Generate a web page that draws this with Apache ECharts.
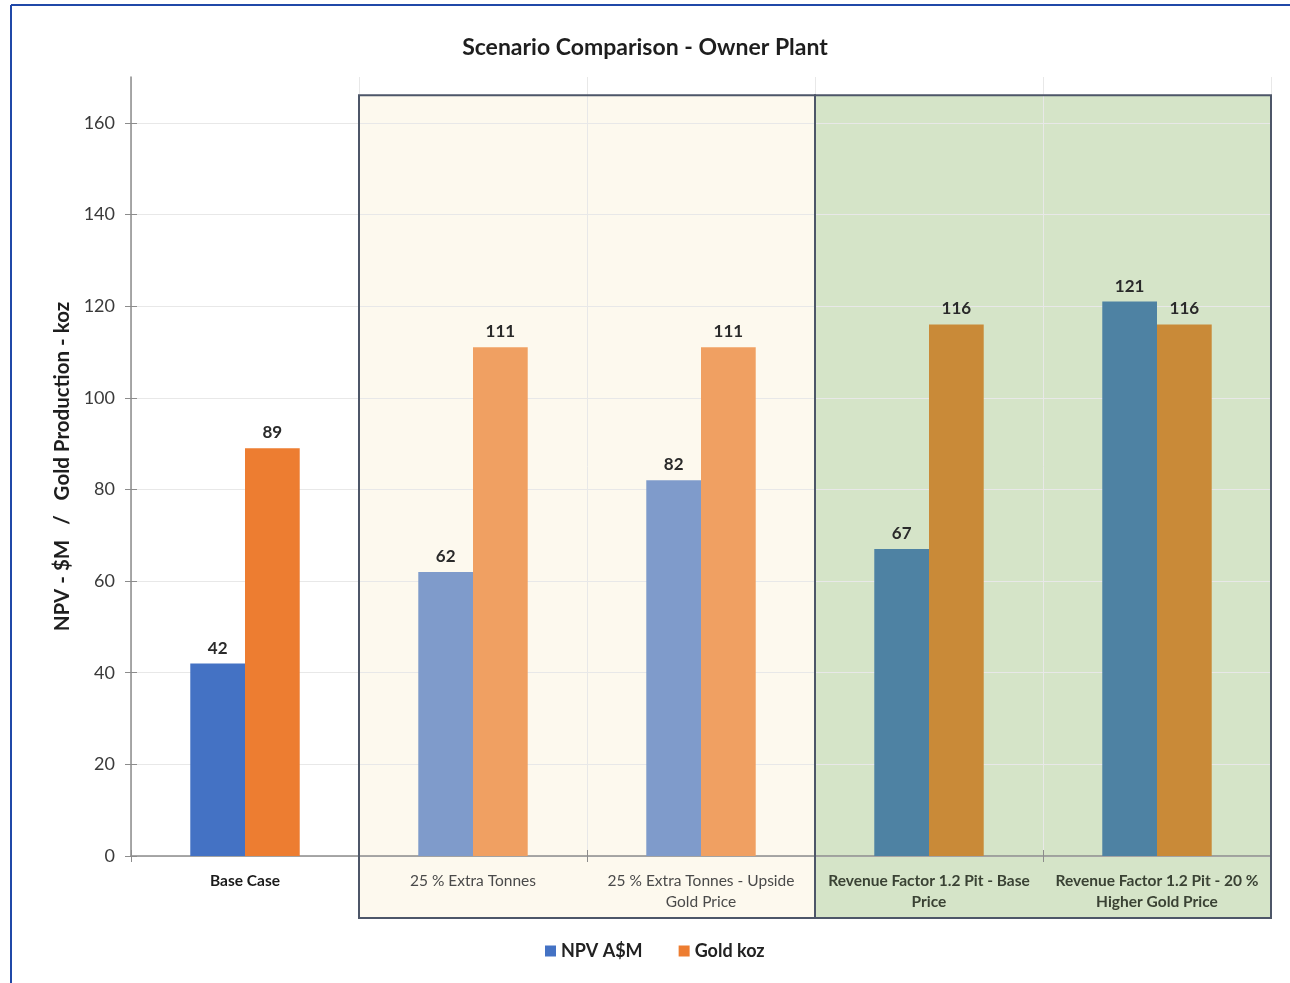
<!DOCTYPE html>
<html>
<head>
<meta charset="utf-8">
<script src="https://cdn.jsdelivr.net/npm/echarts@6/dist/echarts.min.js"></script>
<style>
  html, body { margin: 0; padding: 0; background: #ffffff; }
  #chart { width: 1290px; height: 983px; }
</style>
</head>
<body>
<div id="chart"></div>
<script>
// Scenario names (x axis) and values for each series
const categories = [
  'Base Case',
  '25 % Extra Tonnes',
  '25 % Extra Tonnes - Upside\nGold Price',
  'Revenue Factor 1.2 Pit - Base\nPrice',
  'Revenue Factor 1.2 Pit - 20 %\nHigher Gold Price'
];
const npvValues = [42, 62, 82, 67, 121];
const goldValues = [89, 111, 111, 116, 116];
const yTicks = [0, 20, 40, 60, 80, 100, 120, 140, 160];

// Colours: one per scenario group
const npvColors = ['#4472C4', '#7F9BCB', '#7F9BCB', '#4E82A3', '#4E82A3'];
const goldColors = ['#ED7D31', '#F0A062', '#F0A062', '#C98A38', '#C98A38'];
const labelStyles = ['base', 'extra', 'extra', 'rf', 'rf'];

const FONT = 'Lato, "Open Sans", sans-serif';

const chart = echarts.init(document.getElementById('chart'), null, { renderer: 'canvas' });

function barData(values, colors) {
  return values.map((v, i) => ({ value: v, itemStyle: { color: colors[i] } }));
}

const barLabel = {
  show: true,
  position: 'top',
  distance: 7,
  fontFamily: FONT,
  fontSize: 17,
  fontWeight: 'bold',
  color: '#2a2a2a'
};

const option = {
  animation: false,
  backgroundColor: '#ffffff',
  textStyle: { fontFamily: FONT },
  title: {
    text: 'Scenario Comparison - Owner Plant',
    left: 'center',
    top: 31,
    textStyle: { fontFamily: FONT, fontSize: 23, fontWeight: 'bold', color: '#1e1e1e' }
  },
  legend: {
    data: [
      { name: 'NPV A$M', itemStyle: { color: '#4472C4' } },
      { name: 'Gold koz', itemStyle: { color: '#ED7D31' } }
    ],
    top: 937,
    left: 540,
    icon: 'rect',
    itemWidth: 11,
    itemHeight: 11,
    itemGap: 36,
    textStyle: { fontFamily: FONT, fontSize: 18, fontWeight: 'bold', color: '#222' }
  },
  grid: { left: 131, right: 19, top: 77, bottom: 127, containLabel: false },
  xAxis: [
    {
      type: 'category',
      data: categories,
      axisLine: { lineStyle: { color: '#8c8c8c', width: 1.5 } },
      axisTick: { show: true, length: 6, lineStyle: { color: '#8c8c8c' } },
      splitLine: { show: true, lineStyle: { color: '#e8e8e8', width: 1 } },
      axisLabel: {
        interval: 0,
        margin: 14,
        formatter: function (v, i) {
          const s = labelStyles[i];
          return v.split('\n').map(l => '{' + s + '|' + l + '}').join('\n');
        },
        rich: {
          base: { fontFamily: FONT, fontSize: 15.5, fontWeight: 'bold', color: '#1a1a1a', lineHeight: 21 },
          extra: { fontFamily: FONT, fontSize: 15.5, fontWeight: 'normal', color: '#4a4a4a', lineHeight: 21 },
          rf: { fontFamily: FONT, fontSize: 15.5, fontWeight: 'bold', color: '#3a4234', lineHeight: 21 }
        }
      }
    },
    {
      type: 'category',
      position: 'bottom',
      data: categories,
      axisLine: { show: false },
      axisTick: { show: true, inside: true, length: 6, lineStyle: { color: '#8c8c8c' } },
      axisLabel: { show: false },
      splitLine: { show: false }
    }
  ],
  yAxis: [
    {
      type: 'value',
      min: 0,
      max: 170,
      interval: 20,
      name: 'NPV - $M   /   Gold Production - koz',
      nameLocation: 'middle',
      nameGap: 53,
      nameTextStyle: { fontFamily: FONT, fontSize: 20.5, fontWeight: 'bold', color: '#1e1e1e' },
      axisLine: { show: true, lineStyle: { color: '#8c8c8c', width: 1.5 } },
      axisTick: { show: true, length: 6, customValues: yTicks, lineStyle: { color: '#8c8c8c' } },
      axisLabel: {
        customValues: yTicks,
        margin: 16,
        fontFamily: FONT,
        fontSize: 18,
        color: '#3a3a3a'
      },
      splitLine: {
        show: true,
        lineStyle: {
          // the last entry hides the line at the top of the axis
          color: ['#e8e8e8', '#e8e8e8', '#e8e8e8', '#e8e8e8', '#e8e8e8', '#e8e8e8', '#e8e8e8', '#e8e8e8', '#e8e8e8', 'rgba(0,0,0,0)'],
          width: 1
        }
      }
    },
    {
      type: 'value',
      position: 'left',
      min: 0,
      max: 170,
      interval: 20,
      axisLine: { show: false },
      axisTick: { show: true, inside: true, length: 6, customValues: yTicks, lineStyle: { color: '#8c8c8c' } },
      axisLabel: { show: false },
      splitLine: { show: false }
    }
  ],
  series: [
    {
      name: 'NPV A$M',
      type: 'bar',
      data: barData(npvValues, npvColors),
      barGap: '0%',
      barCategoryGap: '52%',
      label: barLabel,
      z: 5
    },
    {
      name: 'Gold koz',
      type: 'bar',
      data: barData(goldValues, goldColors),
      barGap: '0%',
      barCategoryGap: '52%',
      label: barLabel,
      z: 5
    }
  ]
};

chart.setOption(option);

// Shaded scenario groups drawn from the axis scales
const BOX_TOP_VALUE = 166;
const BOX_BELOW_AXIS = 62;
const c0 = chart.convertToPixel({ xAxisIndex: 0 }, categories[0]);
const c1 = chart.convertToPixel({ xAxisIndex: 0 }, categories[1]);
const band = c1 - c0;
const yZero = chart.convertToPixel({ yAxisIndex: 0 }, 0);
const yTop = chart.convertToPixel({ yAxisIndex: 0 }, BOX_TOP_VALUE);
const yBottom = yZero + BOX_BELOW_AXIS;

function groupBox(firstIdx, lastIdx, fill) {
  const xl = chart.convertToPixel({ xAxisIndex: 0 }, categories[firstIdx]) - band / 2;
  const xr = chart.convertToPixel({ xAxisIndex: 0 }, categories[lastIdx]) + band / 2;
  return [
    {
      type: 'rect',
      z: -10,
      silent: true,
      shape: { x: xl, y: yTop, width: xr - xl, height: yBottom - yTop },
      style: { fill: fill }
    },
    {
      type: 'rect',
      z: 50,
      silent: true,
      shape: { x: xl, y: yTop, width: xr - xl, height: yBottom - yTop },
      style: { fill: 'none', stroke: '#4d5668', lineWidth: 2 }
    }
  ];
}

chart.setOption({
  graphic: [
    ...groupBox(1, 2, '#FDF9EE'),
    ...groupBox(3, 4, '#D5E4C8'),
    // page frame
    { type: 'line', z: 60, silent: true, shape: { x1: 11, y1: 5, x2: 1290, y2: 5 }, style: { stroke: '#2048a8', lineWidth: 2 } },
    { type: 'line', z: 60, silent: true, shape: { x1: 11, y1: 5, x2: 11, y2: 983 }, style: { stroke: '#2048a8', lineWidth: 2 } }
  ]
});
</script>
</body>
</html>
